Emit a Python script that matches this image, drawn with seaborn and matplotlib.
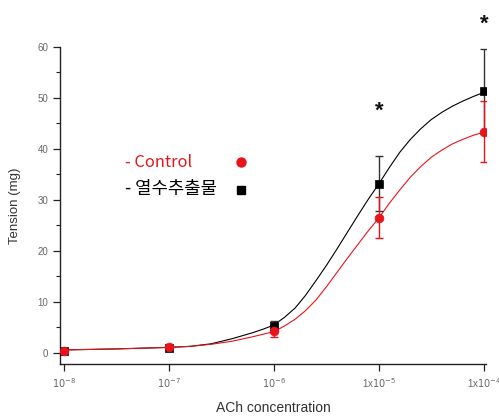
import numpy as np
import pandas as pd
import matplotlib
matplotlib.use("Agg")
import matplotlib.pyplot as plt
import seaborn as sns

# ---- data ----
conc = [1e-8, 1e-7, 1e-6, 1e-5, 1e-4]
control_mean = [0.4, 1.2, 4.3, 26.5, 43.4]
control_err = [0.3, 0.4, 1.1, 4.0, 6.0]
extract_mean = [0.4, 1.0, 5.3, 33.2, 51.3]
extract_err = [0.3, 0.3, 1.0, 5.4, 8.4]

# fitted curves (log10 concentration)
curve_logx = [-8.0, -7.5, -7.0, -6.8, -6.6, -6.4, -6.2, -6.1, -6.0, -5.9, -5.8,
              -5.7, -5.6, -5.5, -5.4, -5.3, -5.2, -5.1, -5.0, -4.9, -4.8, -4.7,
              -4.6, -4.5, -4.4, -4.3, -4.2, -4.1, -4.0]
curve_control = [0.6, 0.8, 1.1, 1.3, 1.7, 2.3, 3.2, 3.7, 4.2, 5.3, 6.6,
                 8.3, 10.4, 13.0, 15.8, 18.6, 21.3, 24.0, 26.5, 29.4, 32.0, 34.5,
                 36.6, 38.4, 39.8, 41.0, 41.9, 42.7, 43.3]
curve_extract = [0.6, 0.8, 1.1, 1.3, 1.8, 2.8, 4.0, 4.7, 5.5, 7.0, 8.8,
                 11.3, 14.2, 17.2, 20.4, 23.7, 27.0, 30.2, 33.2, 36.4, 39.4, 41.9,
                 44.0, 45.8, 47.2, 48.4, 49.4, 50.3, 51.1]

xtick_vals = [1e-8, 1e-7, 1e-6, 1e-5, 1e-4]
xtick_labels = [r"$10^{-8}$", r"$10^{-7}$", r"$10^{-6}$", r"1x$10^{-5}$", r"1x$10^{-4}$"]
ytick_vals = [0, 10, 20, 30, 40, 50, 60]

legend_labels = ["- Control", "- 열수추출물"]
star_positions = [1e-5, 1e-4]
star_heights = [47.5, 64.5]

RED = "#e8141c"
BLACK = "#000000"

sns.set_style("white")
plt.rcParams["font.family"] = ["Liberation Sans", "DejaVu Sans"]

fig = plt.figure(figsize=(4.99, 4.17), dpi=100)
ax = fig.add_axes([60 / 499, 1 - 364 / 417, 426 / 499, 317 / 417])

curve_x = [10 ** v for v in curve_logx]
df_curve = pd.DataFrame({"x": curve_x * 2,
                         "y": curve_extract + curve_control,
                         "group": ["extract"] * len(curve_x) + ["control"] * len(curve_x)})
sns.lineplot(data=df_curve, x="x", y="y", hue="group",
             palette={"extract": BLACK, "control": RED},
             linewidth=0.8, legend=False, ax=ax, sort=False)

# error bars
ax.errorbar(conc, extract_mean, yerr=extract_err, fmt="none", ecolor="#333333",
            elinewidth=1.0, capsize=3, capthick=1.0, zorder=3)
ax.errorbar(conc, control_mean, yerr=control_err, fmt="none", ecolor=RED,
            elinewidth=1.0, capsize=3, capthick=1.0, zorder=3)

df_pts = pd.DataFrame({"x": conc, "extract": extract_mean, "control": control_mean})
sns.scatterplot(data=df_pts, x="x", y="extract", marker="s", s=36, color=BLACK,
                edgecolor=BLACK, linewidth=0.5, ax=ax, zorder=4)
sns.scatterplot(data=df_pts, x="x", y="control", marker="o", s=40, color=RED,
                edgecolor=RED, linewidth=0.5, ax=ax, zorder=5)

ax.set_xscale("log")
ax.set_xlim(10 ** -8.04, 10 ** -3.98)
ax.set_ylim(-2.16, 60)

ax.set_xticks(xtick_vals)
ax.set_xticklabels(xtick_labels)
ax.xaxis.set_minor_locator(matplotlib.ticker.NullLocator())
ax.set_yticks(ytick_vals)
ax.yaxis.set_minor_locator(matplotlib.ticker.MultipleLocator(5))

for s in ["top", "right"]:
    ax.spines[s].set_visible(False)
for s in ["left", "bottom"]:
    ax.spines[s].set_color("#222222")
    ax.spines[s].set_linewidth(1.0)

ax.tick_params(axis="both", which="major", direction="out", length=5, width=0.9,
               colors="#222222", labelcolor="#666666", labelsize=7,
               left=True, bottom=True)
ax.tick_params(axis="y", which="minor", direction="out", length=3, width=0.8,
               colors="#222222", left=True)

ax.set_xlabel("ACh concentration", fontsize=10, color="#333333", labelpad=8)
ax.set_ylabel("Tension (mg)", fontsize=9.5, color="#333333", labelpad=12)

# legend drawn as text + markers
ax.text(0.152, 0.635, legend_labels[0], transform=ax.transAxes, color=RED,
        fontsize=11.8, va="center", ha="left",
        family=["Noto Sans CJK KR", "DejaVu Sans"])
ax.text(0.152, 0.552, legend_labels[1], transform=ax.transAxes, color=BLACK,
        fontsize=12.8, va="center", ha="left",
        family=["Noto Sans CJK KR", "DejaVu Sans"])
ax.plot([0.424], [0.638], marker="o", ms=6.5, color=RED, transform=ax.transAxes,
        clip_on=False, linestyle="none")
ax.plot([0.424], [0.55], marker="s", ms=5.5, color=BLACK, transform=ax.transAxes,
        clip_on=False, linestyle="none")

for xp, yp in zip(star_positions, star_heights):
    ax.text(xp, yp, "*", fontsize=16, fontweight="bold", ha="center", va="center",
            color="#111111", clip_on=False)

fig.savefig("out.png", dpi=100)
